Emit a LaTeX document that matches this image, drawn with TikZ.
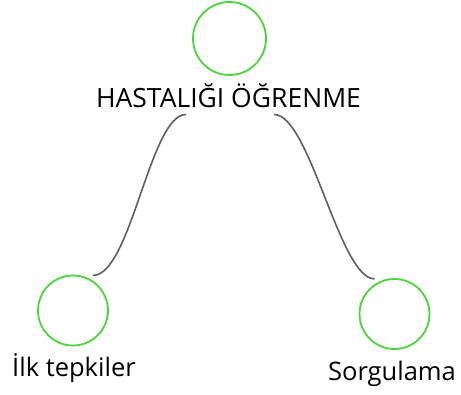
\documentclass[tikz,border=0pt]{standalone}
\usepackage{fontspec}
\setmainfont{Open Sans}
\definecolor{ringgreen}{RGB}{76,212,60}
\definecolor{linkgray}{RGB}{95,95,95}
\begin{document}
\begin{tikzpicture}[x=1pt,y=-1pt,
  ring/.style={circle, draw=ringgreen, line width=1.8pt, inner sep=0pt, minimum size=70pt},
  lbl/.style={inner sep=0pt, anchor=base, font=\fontsize{25.5}{30}\selectfont},
  link/.style={draw=linkgray, line width=1.6pt}]
  \useasboundingbox (0,0) rectangle (461,394);
  \path (229.5,38.5) node[ring, minimum size=73pt] (A){} (228.5,107) node[lbl, font=\fontsize{26.5}{31}\selectfont] (At){HASTALIĞI ÖĞRENME}
    (73,310.5) node[ring] (B){} (74,376) node[lbl] (Bt){İlk tepkiler}
    (394.5,314) node[ring] (C){} (392,380) node[lbl] (Ct){Sorgulama};
  \draw[link] ([shift={(-42.5,7)}]At.south) .. controls +(-36,0) and +(38,0) .. ([shift={(2,-4)}]B.60);
  \draw[link] ([shift={(45.5,7)}]At.south) .. controls +(36,0) and +(-35,0) .. ([shift={(-2,-4)}]C.120);
\end{tikzpicture}
\end{document}
